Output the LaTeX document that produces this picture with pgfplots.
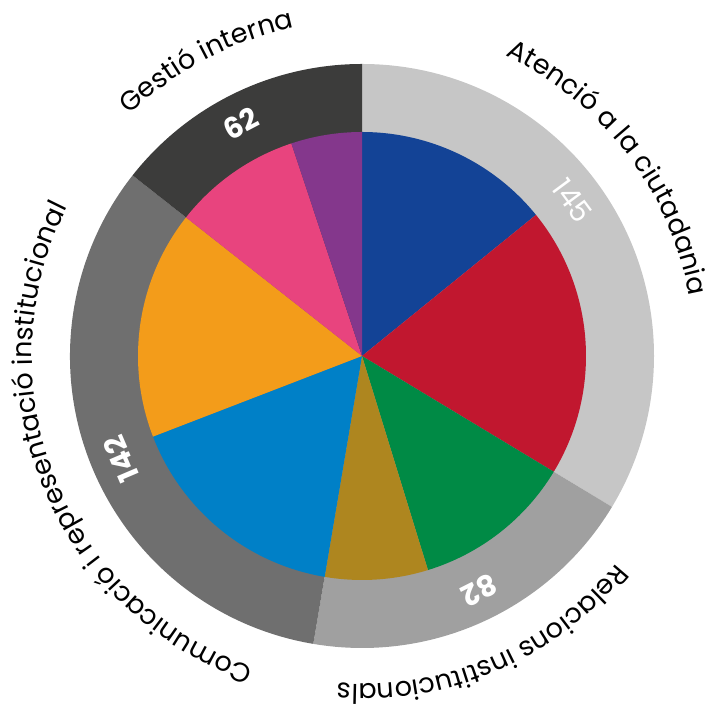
\documentclass[border=0pt]{standalone}
\usepackage{pgfplots}
\usepackage{pgfplotstable}
\pgfplotsset{compat=1.18}
\usepackage{fontspec}
\setmainfont{Poppins}
\usetikzlibrary{decorations.text}

\definecolor{gA}{HTML}{C6C6C6}
\definecolor{gB}{HTML}{A0A0A0}
\definecolor{gC}{HTML}{6F6F6F}
\definecolor{gD}{HTML}{3C3C3B}
\definecolor{cBlue}{HTML}{134396}
\definecolor{cRed}{HTML}{C1172F}
\definecolor{cGreen}{HTML}{008A45}
\definecolor{cOlive}{HTML}{AE861F}
\definecolor{cLBlue}{HTML}{0080C7}
\definecolor{cOrange}{HTML}{F39C1A}
\definecolor{cPink}{HTML}{E8447E}
\definecolor{cPurple}{HTML}{84378C}

% outer ring: one row per area
\pgfplotstableread{
value color
145 gA
82  gB
142 gC
62  gD
}\outerdata

% inner pie
\pgfplotstableread{
value color
61 cBlue
84 cRed
50 cGreen
32 cOlive
71 cLBlue
71 cOrange
40 cPink
22 cPurple
}\innerdata

% builds \fill commands (in axis units, 1 unit = 0.5pt) for a table
\newcommand\buildwedges[3]{% table, radius (units), macro name
  \pgfplotstablegetrowsof{#1}%
  \pgfmathtruncatemacro\nrows{\pgfplotsretval-1}%
  \gdef\cum{0}%
  \expandafter\gdef\csname #3\endcsname{}%
  \foreach \i in {0,...,\nrows}{%
    \pgfplotstablegetelem{\i}{value}\of{#1}\let\v\pgfplotsretval
    \pgfplotstablegetelem{\i}{color}\of{#1}\let\col\pgfplotsretval
    \pgfmathsetmacro\a{90-\cum/\total*360}%
    \pgfmathsetmacro\b{90-(\cum+\v)/\total*360}%
    \pgfmathsetmacro\rr{#2*0.5}%
    \expandafter\xdef\csname #3\endcsname{%
      \unexpanded\expandafter\expandafter\expandafter{\csname #3\endcsname}%
      \noexpand\fill[fill=\col] (axis cs:0,0) --
        (axis cs:{#2*cos(\a)},{#2*sin(\a)})
        arc[start angle=\a, end angle=\b, radius=\rr pt] -- cycle;}%
    \pgfmathsetmacro\c{\cum+\v}\xdef\cum{\c}%
  }%
}

\newcommand\ringlabel[4]{% centre angle, radius, half span, text
  \path[decorate, decoration={text along path, text align=center,
      text format delimiters={|}{|},
      text={|\fontsize{13.5}{13.5}\selectfont|#4}}]
    (axis cs:{#2*cos(#1+#3)},{#2*sin(#1+#3)})
    arc[start angle=#1+#3, end angle=#1-#3, radius=#2*0.5pt];
}

\newcommand\ringvalue[3]{% angle, text, weight
  \node[text=white, inner sep=0pt, rotate=#1-90, font=#3\fontsize{14.5}{14.5}\selectfont]
    at (axis cs:{262*cos(#1)},{262*sin(#1)}) {#2};
}

\begin{document}
\begin{tikzpicture}
% total of all values
\pgfplotstablegetrowsof{\outerdata}
\pgfmathtruncatemacro\nout{\pgfplotsretval-1}
\gdef\total{0}
\foreach \i in {0,...,\nout}{%
  \pgfplotstablegetelem{\i}{value}\of{\outerdata}%
  \pgfmathsetmacro\t{\total+\pgfplotsretval}\xdef\total{\t}}
\buildwedges{\outerdata}{292}{outerwedges}
\buildwedges{\innerdata}{224}{innerwedges}
\begin{axis}[
    x=0.5pt, y=0.5pt,
    xmin=-362, xmax=345,
    ymin=-350, ymax=356,
    hide axis,
    clip=false,
]
\outerwedges
\innerwedges

\ringvalue{36.5}{145}{\mdseries}
\ringvalue{-63.3}{82}{\bfseries}
\ringvalue{-156.9}{142}{\bfseries}
\ringvalue{117.6}{62}{\bfseries}

\ringlabel{37.4}{333}{60}{Atenció a la ciutadania}
\ringlabel{-66.7}{328}{60}{Relacions institucionals}
\ringlabel{-158}{330}{80}{Comunicació i representació institucional}
\ringlabel{117.8}{335}{45}{Gestió interna}

\coordinate (bl) at (axis cs:-362,-350);
\coordinate (tr) at (axis cs:345,356);
\end{axis}
\pgfresetboundingbox
\path (bl) rectangle (tr);
\end{tikzpicture}
\end{document}
